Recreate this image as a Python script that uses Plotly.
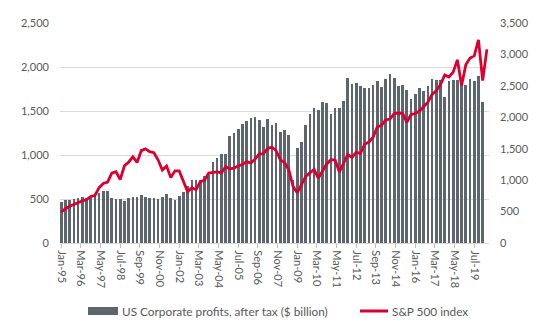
import plotly.graph_objects as go

# Quarterly series, Q1 1995 onwards
quarter_start = (1995, 1)

# US corporate profits after tax, $ billion (Q1 1995 - Q1 2020)
profits = [
    470, 489, 489, 500, 515, 526, 507, 526, 545, 564, 591, 591,
    515, 504, 504, 481, 515, 526, 526, 545, 526, 515, 507, 496,
    526, 556, 507, 489, 538, 583, 648, 716, 716, 716, 765, 773,
    924, 966, 1011, 1011, 1219, 1246, 1295, 1352, 1390, 1424, 1435, 1397,
    1321, 1405, 1340, 1367, 1265, 1284, 1227, 716, 1085, 1151, 1346, 1462,
    1530, 1511, 1605, 1594, 1462, 1530, 1530, 1615, 1875, 1806, 1821, 1784,
    1765, 1757, 1795, 1840, 1768, 1863, 1916, 1878, 1784, 1791, 1742, 1640,
    1689, 1757, 1723, 1784, 1863, 1852, 1852, 1662, 1840, 1852, 1852, 1852,
    1795, 1863, 1844, 1897, 1605,
]

# S&P 500 index, quarter-end level (Q1 1995 - Q2 2020)
sp500 = [
    490, 545, 584, 616, 645, 670, 687, 740, 757, 880, 947, 970,
    1110, 1133, 1010, 1229, 1286, 1372, 1282, 1469, 1498, 1454, 1436, 1320,
    1160, 1224, 1040, 1148, 1147, 989, 815, 880, 848, 975, 996, 1112,
    1126, 1130, 1114, 1212, 1180, 1191, 1228, 1248, 1295, 1270, 1336, 1418,
    1421, 1503, 1527, 1468, 1322, 1280, 1166, 903, 798, 919, 1057, 1115,
    1169, 1031, 1141, 1258, 1326, 1321, 1131, 1258, 1408, 1362, 1441, 1426,
    1569, 1606, 1682, 1848, 1872, 1960, 1972, 2059, 2068, 2063, 1920, 2044,
    2060, 2099, 2168, 2239, 2363, 2423, 2519, 2674, 2641, 2718, 2914, 2507,
    2834, 2942, 2977, 3231, 2585, 3080,
]

# Month axis labels, one every 14 months starting Jan-95
tick_labels = [
    "Jan-95", "Mar-96", "May-97", "Jul-98", "Sep-99", "Nov-00", "Jan-02",
    "Mar-03", "May-04", "Jul-05", "Sep-06", "Nov-07", "Jan-09", "Mar-10",
    "May-11", "Jul-12", "Sep-13", "Nov-14", "Jan-16", "Mar-17", "May-18",
    "Jul-19",
]

bar_label = "US Corporate profits, after tax ($ billion)"
line_label = "S&P 500 index"

# x positions in months since Jan 1995
bar_x = [3 * i for i in range(len(profits))]
line_x = [3 * i for i in range(len(sp500))]
tick_x = [14 * i for i in range(len(tick_labels))]

FONT = "Lato"
TXT = "#595959"
BAR = "#5d666e"
RED = "#dc0030"

fig = go.Figure()
fig.add_trace(go.Bar(
    x=bar_x, y=profits, name=bar_label, width=1.9,
    marker=dict(color=BAR, line=dict(width=0)),
    showlegend=False, yaxis="y",
))
fig.add_trace(go.Scatter(
    x=line_x, y=sp500, name=line_label, mode="lines",
    line=dict(color=RED, width=2.8),
    showlegend=False, yaxis="y2",
))

# Legend drawn below the axis labels
fig.add_shape(type="rect", xref="paper", yref="paper",
              x0=(88 - 60) / 429, x1=(118 - 60) / 429,
              y0=(243 - 315) / 220, y1=(243 - 307) / 220,
              fillcolor=BAR, line=dict(width=0))
fig.add_annotation(xref="paper", yref="paper", x=(120 - 60) / 429,
                   y=(243 - 311) / 220, text=bar_label, showarrow=False,
                   xanchor="left", yanchor="middle",
                   font=dict(family=FONT, size=11.8, color=TXT))
fig.add_shape(type="line", xref="paper", yref="paper",
              x0=(360 - 60) / 429, x1=(388 - 60) / 429,
              y0=(243 - 311) / 220, y1=(243 - 311) / 220,
              line=dict(color=RED, width=3))
fig.add_annotation(xref="paper", yref="paper", x=(390 - 60) / 429,
                   y=(243 - 311) / 220, text=line_label, showarrow=False,
                   xanchor="left", yanchor="middle",
                   font=dict(family=FONT, size=11.8, color=TXT))

fig.update_layout(
    width=550, height=330,
    margin=dict(l=60, r=61, t=23, b=87),
    paper_bgcolor="white", plot_bgcolor="white",
    font=dict(family=FONT, size=11, color=TXT),
    bargap=0,
    xaxis=dict(
        range=[-0.85, 304.5], tickmode="array", tickvals=tick_x,
        ticktext=tick_labels, tickangle=90, showgrid=False, zeroline=False,
        showline=True, linecolor="#d9d9d9", linewidth=1,
        ticks="outside", ticklen=4, tickcolor="#bfbfbf",
        tickfont=dict(family=FONT, size=11, color=TXT),
    ),
    yaxis=dict(
        range=[0, 2500], tickvals=[0, 500, 1000, 1500, 2000, 2500],
        tickformat=",d", showgrid=True, gridcolor="#d9d9d9", gridwidth=1,
        zeroline=False, showline=False, ticklabelstandoff=10,
        tickfont=dict(family=FONT, size=11, color=TXT),
    ),
    yaxis2=dict(
        range=[0, 3500], tickvals=[0, 500, 1000, 1500, 2000, 2500, 3000, 3500],
        tickformat=",d", overlaying="y", side="right", showgrid=False,
        zeroline=False, showline=False, ticklabelstandoff=10,
        tickfont=dict(family=FONT, size=11, color=TXT),
    ),
)

fig.write_html("out.html")
